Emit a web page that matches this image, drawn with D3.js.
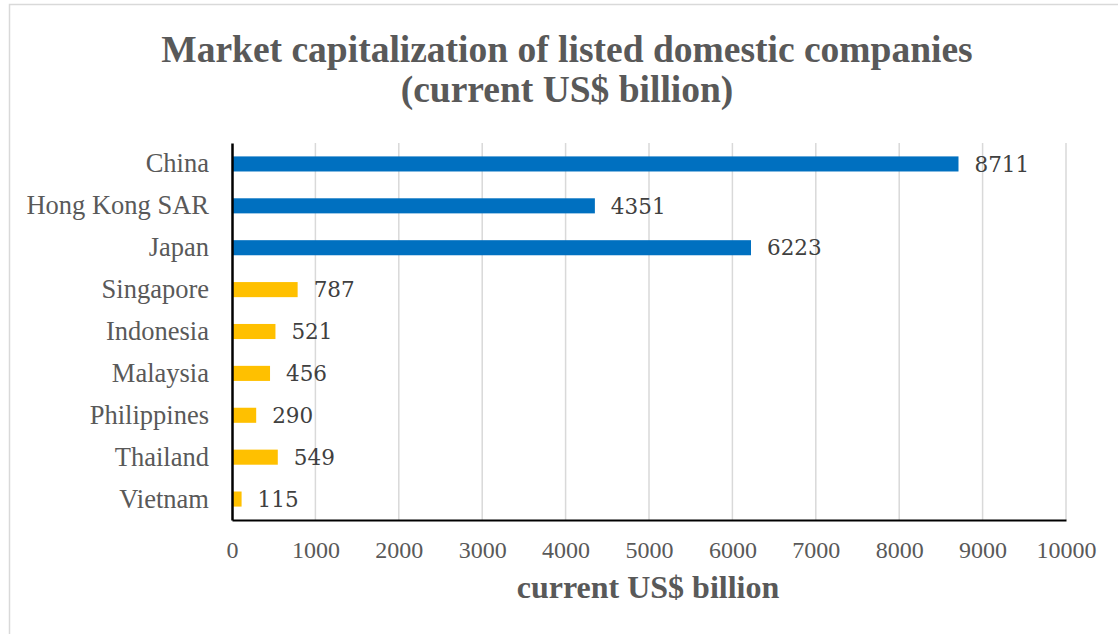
<!DOCTYPE html>
<html>
<head>
<meta charset="utf-8">
<script src="https://cdn.jsdelivr.net/npm/d3@7"></script>
<style>
  html, body { margin: 0; padding: 0; background: #fff; }
  svg { display: block; }
</style>
</head>
<body>
<svg id="chart" width="1118" height="634"></svg>
<script>
// Market capitalization of listed domestic companies, current US$ billion
const countries = ["China", "Hong Kong SAR", "Japan", "Singapore", "Indonesia",
                   "Malaysia", "Philippines", "Thailand", "Vietnam"];
const marketCap = [8711, 4351, 6223, 787, 521, 456, 290, 549, 115];
const groups = ["east", "east", "east", "asean", "asean", "asean", "asean", "asean", "asean"];
const xTicks = [0, 1000, 2000, 3000, 4000, 5000, 6000, 7000, 8000, 9000, 10000];

const groupColor = { east: "#0070C0", asean: "#FFC000" };
const textGray = "#595959";

const svg = d3.select("#chart");
const W = 1118, H = 634;

// frame
svg.append("rect")
  .attr("x", 9.5).attr("y", 4.5)
  .attr("width", W + 10).attr("height", H + 10)
  .attr("fill", "#fff").attr("stroke", "#d9d9d9").attr("stroke-width", 1.5);

const plotLeft = 232, plotRight = 1066, plotTop = 143, plotBottom = 520;

const x = d3.scaleLinear().domain([0, 10000]).range([plotLeft, plotRight]);
const y = d3.scaleBand().domain(countries).range([plotTop, plotBottom]).paddingInner(0.64).paddingOuter(0.32);

// vertical gridlines
svg.append("g").selectAll("line").data(xTicks.slice(1)).join("line")
  .attr("x1", d => x(d)).attr("x2", d => x(d))
  .attr("y1", plotTop).attr("y2", plotBottom)
  .attr("stroke", "#d9d9d9").attr("stroke-width", 1.5);

// bars
const data = countries.map((c, i) => ({ c, v: marketCap[i], g: groups[i] }));
svg.append("g").selectAll("rect").data(data).join("rect")
  .attr("x", x(0))
  .attr("y", d => y(d.c))
  .attr("width", d => x(d.v) - x(0))
  .attr("height", y.bandwidth())
  .attr("fill", d => groupColor[d.g]);

// value labels
svg.append("g").selectAll("text").data(data).join("text")
  .attr("x", d => x(d.v) + 16)
  .attr("y", d => y(d.c) + y.bandwidth() / 2)
  .attr("dy", "0.36em")
  .attr("font-family", "DejaVu Serif")
  .attr("font-size", 21.5)
  .attr("fill", "#404040")
  .text(d => d.v);

// x axis
const xAxis = d3.axisBottom(x).tickValues(xTicks).tickSize(0).tickPadding(0).tickFormat(d3.format("d"));
const gx = svg.append("g").attr("transform", `translate(0,${plotBottom})`).call(xAxis);
gx.select(".domain").attr("stroke", "#000").attr("stroke-width", 2);
gx.selectAll("text")
  .attr("y", 38).attr("dy", 0)
  .attr("font-family", "Liberation Serif")
  .attr("font-size", 24)
  .attr("fill", textGray);

// y axis
const yAxis = d3.axisLeft(y).tickSize(0).tickPadding(23);
const gy = svg.append("g").attr("transform", `translate(${plotLeft},0)`).call(yAxis);
gy.select(".domain").attr("stroke", "#000").attr("stroke-width", 2.5);
gy.selectAll("text")
  .attr("font-family", "Liberation Serif")
  .attr("font-size", 26.5)
  .attr("fill", textGray);

// title
const title = svg.append("text")
  .attr("text-anchor", "middle")
  .attr("font-family", "Liberation Serif")
  .attr("font-weight", "bold")
  .attr("font-size", 37.5)
  .attr("fill", textGray);
title.append("tspan").attr("x", 567).attr("y", 62).text("Market capitalization of listed domestic companies");
title.append("tspan").attr("x", 567).attr("y", 102).text("(current US$ billion)");

// axis title
svg.append("text")
  .attr("x", 648).attr("y", 598)
  .attr("text-anchor", "middle")
  .attr("font-family", "Liberation Serif")
  .attr("font-weight", "bold")
  .attr("font-size", 32)
  .attr("fill", textGray)
  .text("current US$ billion");
</script>
</body>
</html>
